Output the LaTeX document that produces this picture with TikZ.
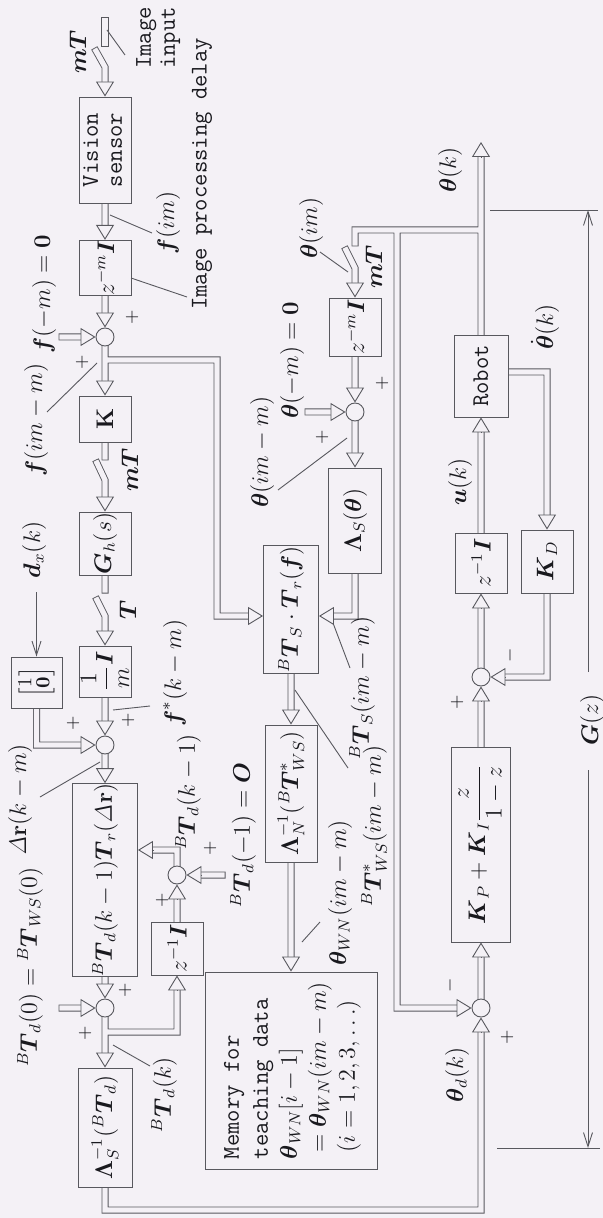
\documentclass[tikz,border=0pt]{standalone}
\usepackage{amsmath}
\usepackage{amssymb}
\usepackage{graphicx}
\usepackage{xcolor}
\usetikzlibrary{arrows.meta,calc,positioning}
\definecolor{paper}{RGB}{244,241,246}
\definecolor{ink}{RGB}{88,88,94}
\definecolor{txt}{RGB}{25,25,30}
\pgfdeclarelayer{back}
\pgfdeclarelayer{wire}
\pgfsetlayers{back,wire,main}
\newcommand{\rt}[1]{\rotatebox{90}{#1}}
\newcommand{\bs}[1]{\boldsymbol{#1}}
\tikzset{%
	block/.style   = {draw=ink, fill=paper, rectangle, line width=0.45pt, inner sep=0pt, text=txt},
	sum/.style     = {draw=ink, fill=paper, circle, line width=0.45pt, minimum size=9pt, inner sep=0pt}, % Adder
	bar/.style     = {draw=ink, fill=paper, rectangle, line width=0.45pt, inner sep=0pt, minimum width=3.5pt, minimum height=14.5pt},
	lbl/.style     = {rotate=90, inner sep=0pt, text=txt},
	sgn/.style     = {lbl, font=\fontsize{9}{9}\selectfont},
	mono/.style    = {lbl, font=\fontsize{12}{12}\selectfont\ttfamily},
	wireout/.style = {draw=ink, line width=3.5pt, line cap=rect},
	wirein/.style  = {draw=paper, line width=2.6pt, line cap=rect},
	head/.style    = {draw=ink, line width=0.45pt, -{Triangle[length=7.5pt,width=9pt,fill=paper]}},
	leader/.style  = {draw=ink, line width=0.45pt},
	dim/.style     = {leader, -{Straight Barb[length=7pt,width=4.5pt]}},
}
% all hollow signal lines, drawn twice (outline, then inside)
\newcommand{\wires}{%
	(96,51) -- (105,67) -- (105,82)
	(vs.south) -- (105,228)
	(zl.south) -- (105,313)
	(62,337) -- (81,337)
	(s1.south) -- (105,381)
	(105,360) -| (217,616) -- (248,616)
	(k.south) -- (105,457)
	(97,463) -- (105,480) -- (105,497)
	(gh.south) -- (105,590)
	(97,600) -- (105,616) -- (105,631)
	(mi.south) -- (105,721)
	(vec.south) |- (81,745)
	(s2.south) -- (105,772)
	(s3.north) |- (153,850)
	(222,875) -- (201,875)
	(zd.north) -- (177,899)
	(bt.south) -- (105,984)
	(62,1008) -- (81,1008)
	(s4.south) -- (105,1053)
	(105,1032) -| (177,990)
	(lsi.south) -- (105,1210) -| (481,1032)
	(rob.north) -- (481,158)
	(481,230) -- (355,230) -- (355,243)
	(346,250) -- (355,268) -- (355,283)
	(zm.south) -- (355,388)
	(308,412) -- (331,412)
	(s6.south) -- (355,453)
	(ls.south) |- (333,616)
	(bts.south) -- (291,710)
	(lni.south) -- (291,957)
	(397,230) |- (457,1008)
	([yshift=2pt]rob.east) -| (547,515)
	(zr.north) -- (481,432)
	(s7.north) -- (481,608)
	(kd.south) |- (505,677)
	(kp.north) -- (481,701)
	(s5.north) -- (481,957)
}

\begin{document}
\begin{tikzpicture}[x=0.5pt, y=-0.5pt, every node/.style={font=\fontsize{12}{12}\selectfont}]
	\begin{pgfonlayer}{back}
		\fill[paper] (0,0) rectangle (603,1218);
	\end{pgfonlayer}
	\useasboundingbox (0,0) rectangle (603,1218);

	% vision loop
	\node[bar] (img) at (105,32) {};
	\node[block, minimum width=26pt, minimum height=53pt] (vs) at (105,150) {\rt{\ttfamily\begin{tabular}{@{}c@{}}Vision\\sensor\end{tabular}}};
	\node[block, minimum width=26pt, minimum height=25pt] (zl) at (105,268) {\rt{$z^{-m}\bs{I}$}};
	\node[sum] (s1) at (105,337) {};
	\node[block, minimum width=26pt, minimum height=23pt] (k) at (105,419) {\rt{$\mathbf{K}$}};
	\node[block, minimum width=26pt, minimum height=31.5pt] (gh) at (105,543.5) {\rt{$\bs{G}_h(s)$}};
	\node[block, minimum width=26pt, minimum height=25.5pt] (mi) at (105,671.5) {\rt{$\dfrac{1}{m}\bs{I}$}};
	\node[block, minimum width=25.5pt, minimum height=25.5pt, font=\fontsize{10}{10}\selectfont] (vec) at (36.5,682.5) {\rt{\renewcommand{\arraystretch}{0.85}$\left[\begin{matrix}1\\ \mathbf{0}\end{matrix}\right]$}};
	\node[sum] (s2) at (105,745) {};
	\node[block, minimum width=32.5pt, minimum height=93pt] (bt) at (105,880) {\rt{${}^{B}\bs{T}_d(k-1)\bs{T}_r(\mathit{\Delta}\mathbf{r})$}};
	\node[sum] (s3) at (177,875) {};
	\node[block, minimum width=26pt, minimum height=26.5pt] (zd) at (177,948.5) {\rt{$z^{-1}\bs{I}$}};
	\node[sum] (s4) at (105,1008) {};
	\node[block, minimum width=27pt, minimum height=59.5pt] (lsi) at (105,1127.5) {\rt{$\bs{\Lambda}_S^{-1}({}^{B}\bs{T}_d)$}};

	% teaching data path
	\node[block, minimum width=26pt, minimum height=29pt] (zm) at (355,327) {\rt{$z^{-m}\bs{I}$}};
	\node[sum] (s6) at (355,412) {};
	\node[block, minimum width=26.5pt, minimum height=52.5pt] (ls) at (355,520.5) {\rt{$\bs{\Lambda}_S(\bs{\theta})$}};
	\node[block, minimum width=27.5pt, minimum height=64pt] (bts) at (291,609) {\rt{${}^{B}\bs{T}_S\cdot\bs{T}_r(\bs{f})$}};
	\node[block, minimum width=26pt, minimum height=68.5pt] (lni) at (291,793.5) {\rt{$\bs{\Lambda}_N^{-1}({}^{B}\bs{T}_{WS}^{*})$}};
	\node[block, minimum width=86pt, minimum height=98.5pt, font=\fontsize{12}{14.5}\selectfont] (mem) at (291,1070.5) {\rt{\begin{tabular}{@{}l@{}}\ttfamily Memory for\\ \ttfamily teaching data\\ $\bs{\theta}_{WN}[i-1]$\\ $\;=\bs{\theta}_{WN}(im-m)$\\ $\;(i=1,2,3,\ldots)$\end{tabular}}};

	% robot servo
	\node[block, minimum width=27pt, minimum height=41pt] (rob) at (481,376) {\rt{\ttfamily Robot}};
	\node[block, minimum width=26pt, minimum height=31.5pt] (kd) at (547,561.5) {\rt{$\bs{K}_D$}};
	\node[block, minimum width=26pt, minimum height=30pt] (zr) at (481,563) {\rt{$z^{-1}\bs{I}$}};
	\node[sum] (s7) at (481,677) {};
	\node[block, minimum width=29.5pt, minimum height=97.5pt] (kp) at (481,844.5) {\rt{$\bs{K}_P+\bs{K}_I\dfrac{z}{1-z}$}};
	\node[sum] (s5) at (481,1008) {};
	\coordinate (th) at (481,142);

	\begin{pgfonlayer}{wire}
		\draw[wireout] \wires;
		\draw[wirein] \wires;
	\end{pgfonlayer}

	\draw[head] (105,82) -- (vs.north);
	\draw[head] (105,228) -- (zl.north);
	\draw[head] (81,337) -- (s1.west);
	\draw[head] (105,313) -- (s1.north);
	\draw[head] (105,381) -- (k.north);
	\draw[head] (248,616) -- (bts.west |- 0,616);
	\draw[head] (105,497) -- (gh.north);
	\draw[head] (105,631) -- (mi.north);
	\draw[head] (105,721) -- (s2.north);
	\draw[head] (81,745) -- (s2.west);
	\draw[head] (105,772) -- (bt.north);
	\draw[head] (153,850) -- (bt.east |- 0,850);
	\draw[head] (201,875) -- (s3.east);
	\draw[head] (177,899) -- (s3.south);
	\draw[head] (105,984) -- (s4.north);
	\draw[head] (81,1008) -- (s4.west);
	\draw[head] (105,1053) -- (lsi.north);
	\draw[head] (177,990) -- (zd.south);
	\draw[head] (481,1032) -- (s5.south);
	\draw[head] (481,158) -- (th);
	\draw[head] (355,283) -- (zm.north);
	\draw[head] (355,388) -- (s6.north);
	\draw[head] (331,412) -- (s6.west);
	\draw[head] (355,453) -- (ls.north);
	\draw[head] (333,616) -- (bts.east |- 0,616);
	\draw[head] (291,710) -- (lni.north);
	\draw[head] (291,957) -- (mem.north);
	\draw[head] (457,1008) -- (s5.west);
	\draw[head] (547,515) -- (kd.north);
	\draw[head] (481,432) -- (rob.south);
	\draw[head] (481,608) -- (zr.south);
	\draw[head] (505,677) -- (s7.east);
	\draw[head] (481,701) -- (s7.south);
	\draw[head] (481,957) -- (kp.south);

	% labels and leaders
	\node[lbl] at (78,52) {$\bs{mT}$};
	\node[mono] at (158,38) {\begin{tabular}{@{}c@{}}Image\\input\end{tabular}};
	\draw[leader] (107,30) -- (125,55);
	\node[lbl] at (168,223) {$\bs{f}(im)$};
	\draw[leader] (110,215) -- (152,233);
	\node[mono] at (202,174) {Image processing delay};
	\draw[leader] (131,278) -- (187,297);
	\node[lbl] at (44,294) {$\bs{f}(-m)=\mathbf{0}$};
	\node[sgn] at (132,317) {$+$};
	\node[sgn] at (82,362) {$+$};
	\node[lbl] at (36,420) {$\bs{f}(im-m)$};
	\draw[leader] (97,363) -- (47,412);
	\node[lbl] at (130,470) {$\bs{mT}$};
	\node[lbl] (dx) at (34,550) {$\bs{d}_x(k)$};
	\draw[dim] (36.5,592) -- (vec.north);
	\node[lbl] at (128,610) {$\bs{T}$};
	\node[lbl] at (175,673) {$\bs{f}^{*}(k-m)$};
	\draw[leader] (113,710) -- (150,706);
	\node[sgn] at (73,723) {$+$};
	\node[sgn] at (128,720) {$+$};
	\node[lbl] at (20,800) {$\mathit{\Delta}\mathbf{r}(k-m)$};
	\draw[leader] (100,762) -- (40,797);
	\node[lbl] at (188,792) {${}^{B}\bs{T}_d(k-1)$};
	\node[sgn] at (210,848) {$+$};
	\node[lbl] at (243,835) {${}^{B}\bs{T}_d(-1)=\bs{O}$};
	\node[sgn] at (162,900) {$+$};
	\node[lbl] at (30,967) {${}^{B}\bs{T}_d(0)={}^{B}\bs{T}_{WS}(0)$};
	\node[sgn] at (125,990) {$+$};
	\node[sgn] at (85,1033) {$+$};
	\node[lbl] at (164,1095) {${}^{B}\bs{T}_d(k)$};
	\draw[leader] (113,1045) -- (150,1066);

	\node[lbl] at (311,228) {$\bs{\theta}(im)$};
	\draw[leader] (320,252) -- (348,272);
	\node[lbl] at (374,267) {$\bs{mT}$};
	\node[lbl] at (292,360) {$\bs{\theta}(-m)=\mathbf{0}$};
	\node[sgn] at (382,383) {$+$};
	\node[sgn] at (322,437) {$+$};
	\node[lbl] at (262,452) {$\bs{\theta}(im-m)$};
	\draw[leader] (278,490) -- (347,438);
	\node[lbl] at (362,688) {${}^{B}\bs{T}_S(im-m)$};
	\draw[leader] (333,623) -- (350,668);
	\node[lbl] at (374,826) {${}^{B}\bs{T}^{*}_{WS}(im-m)$};
	\draw[leader] (295,690) -- (348,768);
	\node[lbl] at (340,893) {$\bs{\theta}_{WN}(im-m)$};
	\draw[leader] (302,942) -- (320,922);

	\node[lbl] at (450,170) {$\bs{\theta}(k)$};
	\node[lbl] at (545,327) {$\dot{\bs{\theta}}(k)$};
	\node[lbl] at (460,482) {$\bs{u}(k)$};
	\node[sgn] at (510,655) {$-$};
	\node[sgn] at (457,702) {$+$};
	\node[lbl] at (457,1075) {$\bs{\theta}_d(k)$};
	\node[sgn] at (507,1037) {$+$};
	\node[sgn] at (450,985) {$-$};

	% G(z) span
	\node[lbl] (gz) at (592,720) {$\bs{G}(z)$};
	\draw[leader] (490,210) -- (598,210);
	\draw[leader] (497,1148) -- (600,1148);
	\draw[dim] (588,672) -- (588,210);
	\draw[dim] (588,770) -- (588,1148);
\end{tikzpicture}
\end{document}
